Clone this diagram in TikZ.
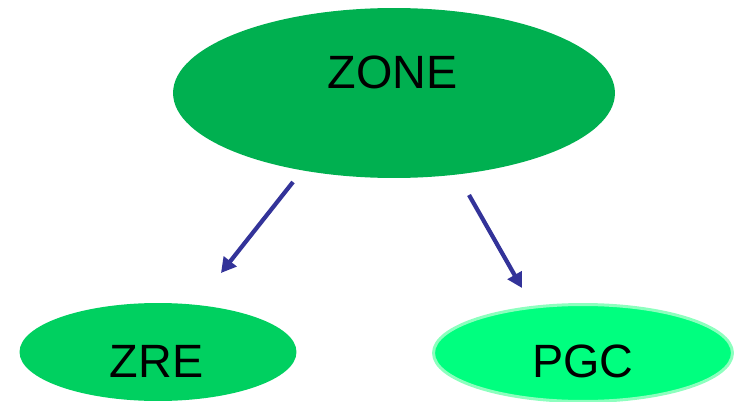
\documentclass[tikz,border=0pt]{standalone}
\usepackage{fontspec}
\setmainfont{Liberation Sans}
\usetikzlibrary{shapes.geometric,arrows.meta}
\definecolor{zonegreen}{RGB}{0,176,80}
\definecolor{zregreen}{RGB}{0,208,96}
\definecolor{pgcgreen}{RGB}{0,255,127}
\definecolor{pgcedge}{RGB}{140,255,190}
\definecolor{arrowblue}{RGB}{51,51,153}
\tikzset{
  bubble/.style={ellipse, inner sep=0pt},
  caption/.style={anchor=base, inner sep=0pt, font=\fontsize{26.6}{30}\selectfont, text=black},
  link/.style={draw=arrowblue, line width=2.4pt, -{Triangle[length=8.5pt,width=9pt]}}
}
\begin{document}
\begin{tikzpicture}[x=0.02cm,y=-0.02cm]
\useasboundingbox (0,0) rectangle (734,402);
\node[bubble, fill=zonegreen, minimum width=8.84cm, minimum height=3.4cm] (zone) at (394,93) {};
\node[bubble, fill=zregreen, minimum width=5.54cm, minimum height=1.96cm] (zre) at (158,352) {};
\node[bubble, fill=pgcgreen, draw=pgcedge, line width=1.7pt, minimum width=5.98cm, minimum height=1.94cm] (pgc) at (583,353) {};
\node[caption] (zonetext) at (392.5,89) {ZONE};
\node[caption] (zretext) at (156.5,377) {ZRE};
\node[caption] (pgctext) at (583,377) {PGC};
\coordinate (zoneL) at (293,182);
\coordinate (zreT) at (221,273);
\coordinate (zoneR) at (469,195);
\coordinate (pgcT) at (522,288);
\draw[link] (zoneL) -- (zreT);
\draw[link] (zoneR) -- (pgcT);
\end{tikzpicture}
\end{document}
